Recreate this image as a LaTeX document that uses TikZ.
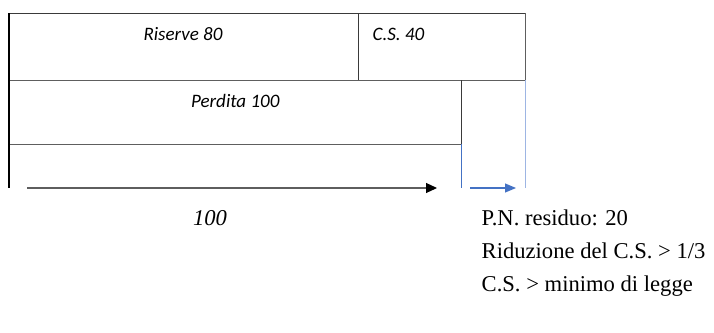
\documentclass[tikz,border=0pt]{standalone}
\usepackage{fontspec}
\setmainfont{Liberation Serif}
\newfontfamily\boxfont{Carlito}
\usetikzlibrary{arrows.meta}
\definecolor{edgegray}{HTML}{3A3A3A}
\definecolor{rulegray}{HTML}{5E5E5E}
\definecolor{offblue}{HTML}{4472C4}
\definecolor{paleblue}{HTML}{9DB5E3}
\begin{document}
\begin{tikzpicture}[x=1pt,y=-1pt,
  cell/.style={draw=edgegray,line width=1.1pt},
  boxtext/.style={anchor=base,inner sep=0pt,font=\boxfont\itshape\fontsize{19}{22}\selectfont},
  note/.style={anchor=base west,inner sep=0pt,font=\fontsize{22.6}{26}\selectfont},
  amount/.style={anchor=base,inner sep=0pt,font=\itshape\fontsize{22.6}{26}\selectfont},
  blackarrow/.style={draw=rulegray,line width=1.1pt,-{Triangle[length=11pt,width=10pt,color=black]}},
  bluearrow/.style={draw=offblue,line width=1.1pt,-{Triangle[length=11pt,width=9pt]}}]
\useasboundingbox (0,0) rectangle (714,332);

% equity blocks
\coordinate (tl) at (9,13.3);
\coordinate (div) at (358.7,13.3);
\coordinate (tr) at (525.7,13.3);
\coordinate (ml) at (9,80.3);
\coordinate (mdiv) at (358.7,80.3);
\coordinate (mr) at (525.7,80.3);
\coordinate (pr) at (461.5,80.3);
\coordinate (bl) at (9,144.3);
\coordinate (br) at (461.5,144.3);
\coordinate (lowl) at (9,188);
\coordinate (lowm) at (461.5,188);
\coordinate (lowr) at (525.7,188);

\draw[cell] (tl) -- (tr);
\draw[cell] (div) -- (mdiv);
\draw[draw=rulegray,line width=1.3pt] (tr) -- (mr);
\draw[draw=rulegray,line width=1.1pt] (ml) -- (mr);
\draw[cell] (pr) -- (br);
\draw[draw=rulegray,line width=1.1pt] (bl) -- (br);
\draw[draw=black,line width=1.1pt] (tl) -- (lowl);
\draw[draw=offblue,line width=1.1pt] (br) -- (lowm);
\draw[draw=paleblue,line width=1.3pt] (mr) -- (lowr);

\node[boxtext] (riserve) at (183,40.5) {Riserve 80};
\node[boxtext] (cs) at (398.5,40.5) {C.S. 40};
\node[boxtext] (perdita) at (235.3,107.5) {Perdita 100};

% arrows
\coordinate (a1s) at (27,188);
\coordinate (a1e) at (437,188);
\coordinate (a2s) at (470,188);
\coordinate (a2e) at (516,188);
\draw[blackarrow] (a1s) -- (a1e);
\draw[bluearrow] (a2s) -- (a2e);

\node[amount] (hundred) at (210,225.5) {100};
\node[note] (pn) at (481.5,225) {P.N. residuo: 20};
\node[note] (rid) at (481.5,258.5) {Riduzione del C.S. > 1/3};
\node[note] (min) at (481.5,291.7) {C.S. > minimo di legge};
\end{tikzpicture}
\end{document}
